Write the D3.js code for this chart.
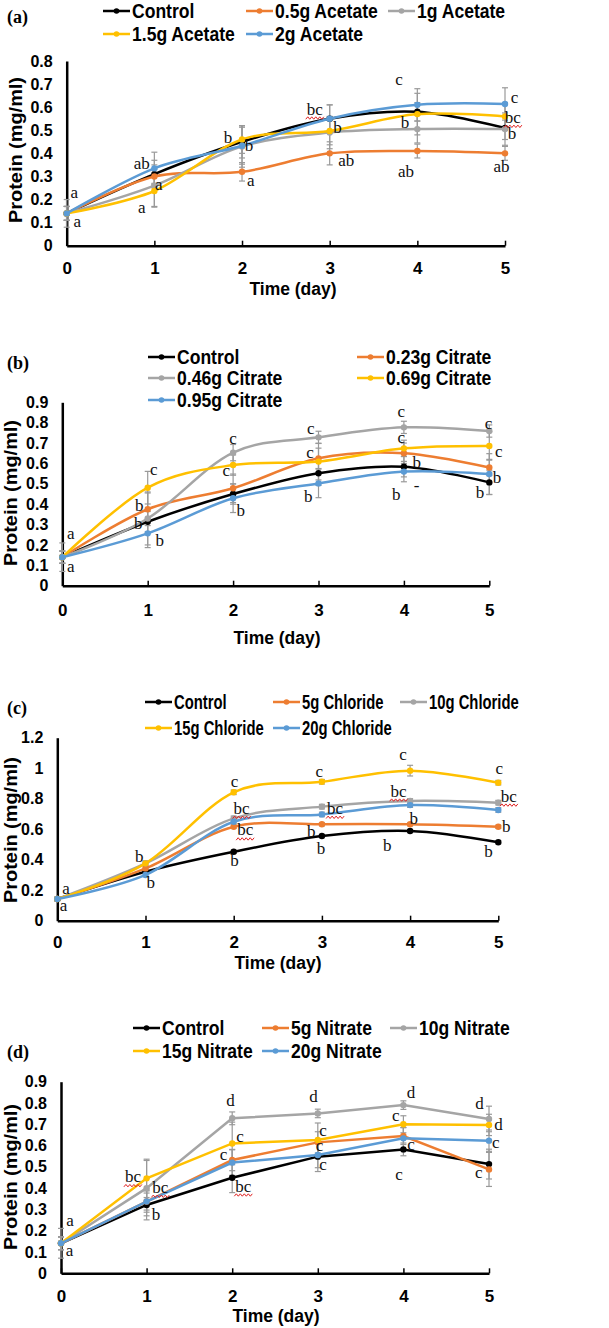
<!DOCTYPE html>
<html>
<head>
<meta charset="utf-8">
<script src="https://cdn.jsdelivr.net/npm/d3@7"></script>
<style>
  body { margin: 0; background: #fff; }
  svg { display: block; }
</style>
</head>
<body>
<svg width="609" height="1328"></svg>
<script>
// Shared data
const days = [0, 1, 2, 3, 4, 5];
const seriesColors = ["#000000", "#ED7D31", "#A5A5A5", "#FFC000", "#5B9BD5"];

// (a) Acetate
const acetateNames = ["Control", "0.5g Acetate", "1g Acetate", "1.5g Acetate", "2g Acetate"];
const acetateValues = [
  [0.14, 0.31, 0.45, 0.55, 0.58, 0.51],
  [0.14, 0.30, 0.32, 0.40, 0.41, 0.40],
  [0.14, 0.26, 0.43, 0.49, 0.505, 0.505],
  [0.14, 0.237, 0.46, 0.497, 0.57, 0.56],
  [0.14, 0.335, 0.433, 0.55, 0.61, 0.614]
];
const acetateErrors = [
  [0.06, 0.06, 0.07, 0.06, 0.04, 0.05],
  [0.03, 0.03, 0.04, 0.05, 0.03, 0.03],
  [0.03, 0.09, 0.09, 0.07, 0.06, 0.07],
  [0.03, 0.07, 0.06, 0.06, 0.09, 0.06],
  [0.03, 0.07, 0.08, 0.06, 0.07, 0.07]
];
const acetateLetters = [
  [0.085, 0.23, "a"], [0.12, 0.104, "a"],
  [0.855, 0.357, "ab"], [1.05, 0.263, "a"], [0.855, 0.166, "a"],
  [1.84, 0.47, "b"], [2.08, 0.436, "b"], [2.10, 0.284, "a"],
  [2.83, 0.592, "bc", 1], [3.09, 0.513, "b"], [3.19, 0.371, "ab"],
  [3.79, 0.718, "c"], [3.86, 0.533, "b"], [3.87, 0.32, "ab"],
  [5.11, 0.643, "c"], [5.09, 0.556, "bc", 1], [5.08, 0.484, "b"], [4.96, 0.342, "ab"]
];

// (b) Citrate
const citrateNames = ["Control", "0.23g Citrate", "0.46g Citrate", "0.69g Citrate", "0.95g Citrate"];
const citrateValues = [
  [0.14, 0.314, 0.45, 0.552, 0.584, 0.507],
  [0.14, 0.375, 0.478, 0.625, 0.65, 0.58],
  [0.14, 0.33, 0.653, 0.728, 0.777, 0.759],
  [0.14, 0.481, 0.592, 0.609, 0.674, 0.686],
  [0.14, 0.257, 0.429, 0.502, 0.56, 0.548]
];
const citrateErrors = [
  [0.07, 0.05, 0.05, 0.06, 0.05, 0.06],
  [0.03, 0.08, 0.07, 0.05, 0.05, 0.04],
  [0.03, 0.13, 0.04, 0.03, 0.03, 0.03],
  [0.03, 0.08, 0.05, 0.09, 0.04, 0.07],
  [0.03, 0.07, 0.07, 0.07, 0.05, 0.10]
];
const citrateLetters = [
  [0.10, 0.257, "a"], [0.10, 0.093, "a"],
  [1.07, 0.571, "c"], [0.90, 0.396, "b"], [0.89, 0.306, "b"], [1.14, 0.224, "b"],
  [2.0, 0.72, "c"], [1.92, 0.563, "c"], [2.09, 0.371, "b"],
  [2.91, 0.772, "c"], [2.90, 0.655, "c"], [2.88, 0.437, "b"],
  [3.97, 0.854, "c"], [3.97, 0.727, "c"], [4.15, 0.604, "b"], [3.91, 0.45, "b"], [4.15, 0.49, "-"],
  [4.99, 0.797, "c"], [5.11, 0.661, "c"], [5.09, 0.532, "b"], [4.89, 0.458, "b"]
];

// (c) Chloride
const chlorideNames = ["Control", "5g Chloride", "10g Chloride", "15g Chloride", "20g Chloride"];
const chlorideValues = [
  [0.142, 0.321, 0.452, 0.555, 0.588, 0.514],
  [0.142, 0.343, 0.616, 0.632, 0.632, 0.616],
  [0.142, 0.376, 0.671, 0.748, 0.785, 0.774],
  [0.142, 0.376, 0.842, 0.911, 0.984, 0.905],
  [0.142, 0.30, 0.649, 0.697, 0.758, 0.726]
];
const chlorideErrors = [
  [0.01, 0.01, 0.01, 0.01, 0.01, 0.01],
  [0.01, 0.01, 0.01, 0.01, 0.01, 0.01],
  [0.01, 0.015, 0.015, 0.015, 0.015, 0.015],
  [0.01, 0.015, 0.015, 0.015, 0.035, 0.015],
  [0.01, 0.01, 0.015, 0.015, 0.015, 0.015]
];
const chlorideLetters = [
  [0.10, 0.208, "a"], [0.07, 0.098, "a"],
  [0.93, 0.42, "b"], [1.06, 0.251, "b"],
  [2.01, 0.916, "c"], [2.09, 0.737, "bc", 1], [2.13, 0.595, "bc", 1], [2.01, 0.398, "b"],
  [2.97, 0.977, "c"], [3.15, 0.737, "bc", 1], [2.88, 0.588, "b"], [2.99, 0.474, "b"],
  [3.92, 1.09, "c"], [3.87, 0.85, "bc", 1], [4.04, 0.671, "b"], [3.74, 0.496, "b"],
  [5.01, 0.995, "c"], [5.12, 0.817, "bc", 1], [5.09, 0.616, "b"], [4.89, 0.457, "b"]
];

// (d) Nitrate
const nitrateNames = ["Control", "5g Nitrate", "10g Nitrate", "15g Nitrate", "20g Nitrate"];
const nitrateValues = [
  [0.141, 0.321, 0.449, 0.548, 0.582, 0.513],
  [0.141, 0.337, 0.532, 0.615, 0.645, 0.488],
  [0.141, 0.40, 0.728, 0.751, 0.79, 0.725],
  [0.141, 0.446, 0.61, 0.626, 0.70, 0.697],
  [0.141, 0.337, 0.52, 0.556, 0.634, 0.623]
];
const nitrateErrors = [
  [0.07, 0.07, 0.07, 0.07, 0.03, 0.07],
  [0.03, 0.05, 0.05, 0.05, 0.04, 0.08],
  [0.03, 0.13, 0.03, 0.02, 0.02, 0.06],
  [0.03, 0.09, 0.10, 0.08, 0.04, 0.05],
  [0.03, 0.04, 0.06, 0.06, 0.05, 0.05]
];
const nitrateLetters = [
  [0.105, 0.25, "a"], [0.10, 0.106, "a"],
  [0.84, 0.454, "bc", 1], [1.16, 0.404, "bc", 1], [1.11, 0.277, "b"],
  [1.98, 0.814, "d"], [2.09, 0.642, "c"], [1.90, 0.559, "c"], [2.13, 0.41, "bc", 1],
  [2.95, 0.83, "d"], [3.06, 0.673, "c"], [3.02, 0.60, "c"], [3.06, 0.509, "c"],
  [4.09, 0.848, "d"], [3.91, 0.74, "c"], [4.09, 0.606, "c"], [3.95, 0.465, "c"],
  [4.89, 0.798, "d"], [5.11, 0.697, "d"], [5.08, 0.614, "c"], [4.88, 0.473, "c"]
];

// Panel layout (pixels)
const panels = [
  { tag: "(a)", names: acetateNames, values: acetateValues, errors: acetateErrors, letters: acetateLetters,
    left: 66.7, right: 505, top: 61, bottom: 245.7, yMax: 0.8, yStep: 0.1, smooth: true,
    title: [7, 17], legendCols: [103, 246, 388], legendRows: [11, 34], legendSquash: 0.9,
    xTickDy: 22.5, xLabel: [293, 288.5], yLabel: [15, 150] },
  { tag: "(b)", names: citrateNames, values: citrateValues, errors: citrateErrors, letters: citrateLetters,
    left: 62.3, right: 489.3, top: 402.3, bottom: 585.7, yMax: 0.9, yStep: 0.1, smooth: true,
    title: [7, 363], legendCols: [148, 357], legendRows: [357, 378, 400], legendSquash: 0.9,
    xTickDy: 24, xLabel: [277, 638], yLabel: [10, 493] },
  { tag: "(c)", names: chlorideNames, values: chlorideValues, errors: chlorideErrors, letters: chlorideLetters,
    left: 57.3, right: 498.3, top: 737.7, bottom: 920.7, yMax: 1.2, yStep: 0.2, smooth: true,
    title: [7, 708], legendCols: [145, 273, 400], legendRows: [702, 728], legendSquash: 0.76,
    xTickDy: 21.5, xLabel: [278, 963], yLabel: [10, 830] },
  { tag: "(d)", names: nitrateNames, values: nitrateValues, errors: nitrateErrors, letters: nitrateLetters,
    left: 61, right: 489, top: 1081.7, bottom: 1273.3, yMax: 0.9, yStep: 0.1, smooth: false,
    title: [7, 1052], legendCols: [133, 262, 390], legendRows: [1028, 1051], legendSquash: 0.9,
    xTickDy: 23, xLabel: [276, 1316], yLabel: [10, 1177] }
];

const svg = d3.select("svg");
const sans = "'Liberation Sans', Arial, sans-serif";
const serif = "'Liberation Serif', 'Times New Roman', serif";

panels.forEach(p => {
  const g = svg.append("g");
  const x = d3.scaleLinear().domain([0, 5]).range([p.left, p.right]);
  const y = d3.scaleLinear().domain([0, p.yMax]).range([p.bottom, p.top]);
  const yTicks = d3.range(0, p.yMax + 1e-6, p.yStep);

  // Y axis
  const yAxis = g.append("g")
    .attr("transform", `translate(${p.left},0)`)
    .call(d3.axisLeft(y).tickValues(yTicks).tickSize(0).tickPadding(14)
      .tickFormat(d => d3.format("~g")(+d.toFixed(2))));
  yAxis.select(".domain").attr("stroke", "#000").attr("stroke-width", 2.5);
  yAxis.selectAll("text").attr("font-family", sans).attr("font-weight", "bold")
    .attr("font-size", 16).attr("fill", "#000");

  // X axis
  const xAxis = g.append("g")
    .attr("transform", `translate(0,${p.bottom})`)
    .call(d3.axisBottom(x).tickValues(days).tickFormat(d3.format("d"))
      .tickSizeInner(-5).tickSizeOuter(0).tickPadding(p.xTickDy - 6));
  xAxis.select(".domain").attr("stroke", "#000").attr("stroke-width", 2.5);
  xAxis.selectAll(".tick line").attr("stroke", "#000").attr("stroke-width", 1.5);
  xAxis.selectAll("text").attr("font-family", sans).attr("font-weight", "bold")
    .attr("font-size", 17).attr("fill", "#000");

  // Axis titles
  g.append("text")
    .attr("x", p.xLabel[0]).attr("y", p.xLabel[1])
    .attr("text-anchor", "middle").attr("dominant-baseline", "central")
    .attr("font-family", sans).attr("font-weight", "bold").attr("font-size", 17.5)
    .text("Time (day)");
  g.append("text")
    .attr("transform", `translate(${p.yLabel[0]},${p.yLabel[1]}) rotate(-90)`)
    .attr("text-anchor", "middle").attr("dominant-baseline", "central")
    .attr("font-family", sans).attr("font-weight", "bold").attr("font-size", 19)
    .attr("textLength", 146).attr("lengthAdjust", "spacingAndGlyphs")
    .text("Protein (mg/ml)");

  // Panel tag
  g.append("text")
    .attr("x", p.title[0]).attr("y", p.title[1])
    .attr("dominant-baseline", "central")
    .attr("font-family", serif).attr("font-weight", "bold").attr("font-size", 18)
    .text(p.tag);

  // Error bars
  const eb = g.append("g").attr("stroke", "#999").attr("stroke-width", 1.2);
  p.values.forEach((vals, si) => {
    vals.forEach((v, di) => {
      const e = p.errors[si][di];
      const cx = x(days[di]);
      eb.append("line").attr("x1", cx).attr("x2", cx).attr("y1", y(v - e)).attr("y2", y(v + e));
      [v - e, v + e].forEach(w => {
        eb.append("line").attr("x1", cx - 3).attr("x2", cx + 3).attr("y1", y(w)).attr("y2", y(w));
      });
    });
  });

  // Lines and markers
  const line = d3.line()
    .x((d, i) => x(days[i]))
    .y(d => y(d))
    .curve(p.smooth ? d3.curveCardinal.tension(0) : d3.curveLinear);

  p.values.forEach((vals, si) => {
    g.append("path")
      .datum(vals)
      .attr("d", line)
      .attr("fill", "none")
      .attr("stroke", seriesColors[si])
      .attr("stroke-width", 2.5);
    g.append("g").selectAll("circle")
      .data(vals)
      .join("circle")
      .attr("cx", (d, i) => x(days[i]))
      .attr("cy", d => y(d))
      .attr("r", 3.2)
      .attr("fill", seriesColors[si]);
  });

  // Significance letters
  const lg = g.append("g");
  p.letters.forEach(([dx, dv, t, squiggle]) => {
    lg.append("text")
      .attr("x", x(dx)).attr("y", y(dv))
      .attr("text-anchor", "middle").attr("dominant-baseline", "central")
      .attr("font-family", serif).attr("font-size", 17).attr("fill", "#111")
      .text(t);
    if (squiggle) {
      const sx = x(dx) - 9, sy = y(dv) + 9;
      const pts = d3.range(0, 10).map(k => [sx + k * 2, sy + (k % 2 ? -1.2 : 1.2)]);
      lg.append("path")
        .attr("d", d3.line()(pts))
        .attr("fill", "none").attr("stroke", "#e02020").attr("stroke-width", 1);
    }
  });

  // Legend
  const leg = g.append("g");
  const nCols = p.legendCols.length;
  p.names.forEach((name, i) => {
    const lx = p.legendCols[i % nCols];
    const ly = p.legendRows[Math.floor(i / nCols)];
    leg.append("line")
      .attr("x1", lx).attr("x2", lx + 27).attr("y1", ly).attr("y2", ly)
      .attr("stroke", seriesColors[i]).attr("stroke-width", 2.5);
    leg.append("circle")
      .attr("cx", lx + 13.5).attr("cy", ly).attr("r", 2.8).attr("fill", seriesColors[i]);
    const t = leg.append("text")
      .attr("x", lx + 29).attr("y", ly)
      .attr("dominant-baseline", "central")
      .attr("font-family", sans).attr("font-weight", "bold").attr("font-size", 19.5)
      .text(name);
    const w = t.node().getComputedTextLength();
    t.attr("textLength", w * p.legendSquash).attr("lengthAdjust", "spacingAndGlyphs");
  });
});
</script>
</body>
</html>
